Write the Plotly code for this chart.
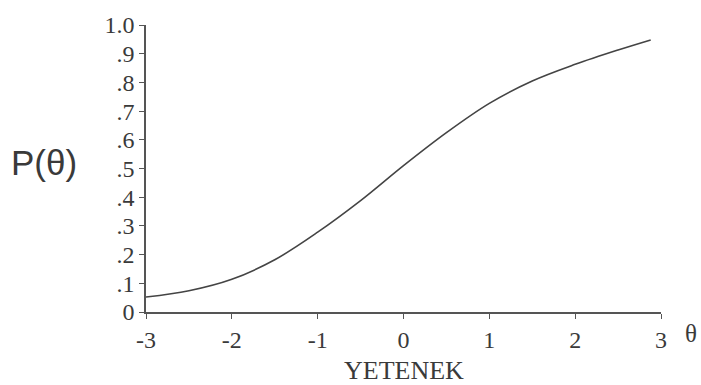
import plotly.graph_objects as go

theta = [-3.0, -2.5, -2.0, -1.5, -1.0, -0.5, 0.0, 0.5, 1.0, 1.5, 2.0, 2.5, 2.88]
prob = [0.052, 0.074, 0.114, 0.182, 0.278, 0.388, 0.510, 0.625, 0.727, 0.805, 0.863, 0.913, 0.948]

x_ticks = [-3, -2, -1, 0, 1, 2, 3]
x_ticktext = ["-3", "-2", "-1", "0", "1", "2", "3"]
y_ticks = [0, 0.1, 0.2, 0.3, 0.4, 0.5, 0.6, 0.7, 0.8, 0.9, 1.0]
y_ticktext = ["0", ".1", ".2", ".3", ".4", ".5", ".6", ".7", ".8", ".9", "1.0"]

serif = "Liberation Serif, Times New Roman, serif"
txt = "#3a3a3a"
axc = "#555555"

fig = go.Figure()
fig.add_trace(go.Scatter(
    x=theta, y=prob, mode="lines",
    line=dict(color="#444444", width=1.6, shape="spline", smoothing=1.0),
    showlegend=False, hoverinfo="skip",
))

fig.update_layout(
    width=701, height=385,
    margin=dict(l=146, r=40, t=22, b=73),
    paper_bgcolor="white", plot_bgcolor="white",
    xaxis=dict(
        range=[-3, 3], tickvals=x_ticks, ticktext=x_ticktext,
        showgrid=False, zeroline=False, showline=True, linecolor=axc, linewidth=1.5,
        ticks="outside", ticklen=5, tickwidth=1.2, tickcolor=axc,
        tickfont=dict(family=serif, size=24, color=txt),
    ),
    yaxis=dict(
        range=[0, 1], tickvals=y_ticks, ticktext=y_ticktext,
        showgrid=False, zeroline=False, showline=True, linecolor=axc, linewidth=1.5,
        ticks="outside", ticklen=5, tickwidth=1.2, tickcolor=axc,
        tickfont=dict(family=serif, size=24, color=txt),
    ),
    annotations=[
        dict(text="YETENEK", x=0, y=0, xref="x", yref="paper", yshift=-58,
             showarrow=False, font=dict(family=serif, size=26, color=txt),
             xanchor="center", yanchor="middle"),
        dict(text="θ", x=1, y=0, xref="paper", yref="paper", xshift=30, yshift=-21,
             showarrow=False, font=dict(family=serif, size=25, color=txt),
             xanchor="center", yanchor="middle"),
        dict(text="P(θ)", x=0, y=0.52, xref="paper", yref="paper", xshift=-102,
             showarrow=False, font=dict(family="Liberation Sans, Arial, sans-serif", size=35, color=txt),
             xanchor="center", yanchor="middle"),
    ],
)

fig.write_html("out.html")
